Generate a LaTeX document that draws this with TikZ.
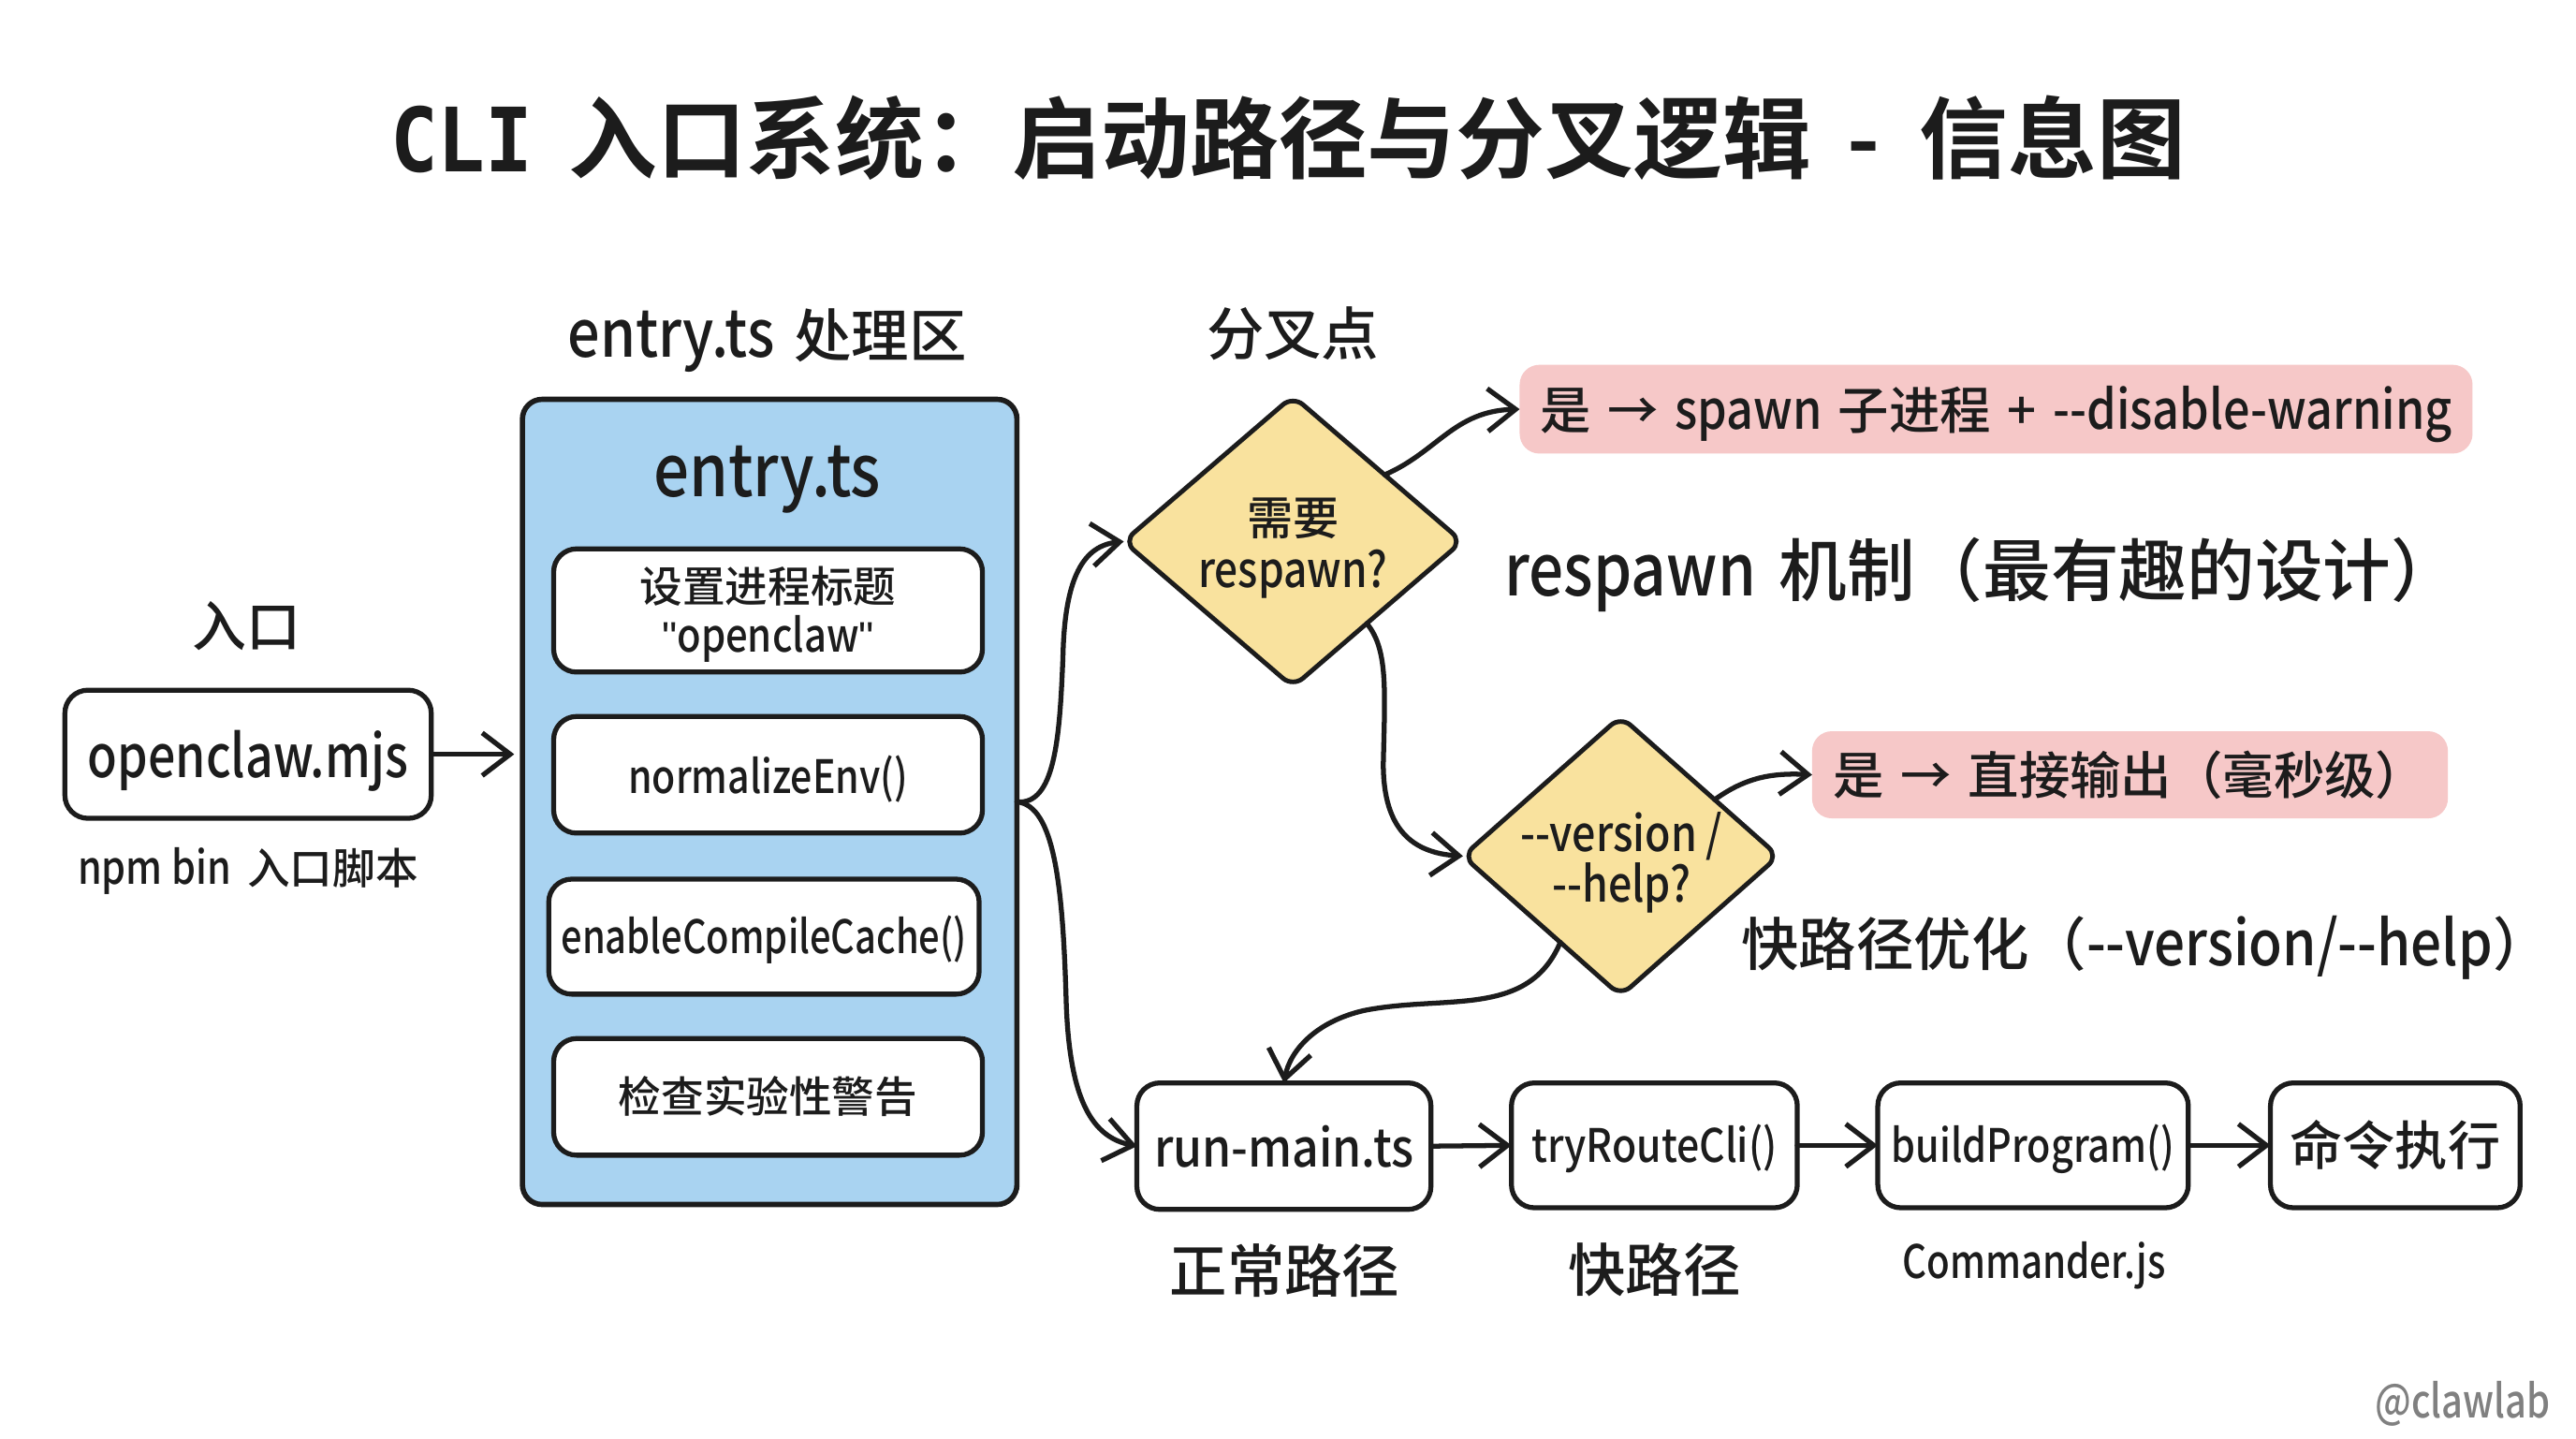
\documentclass[tikz,border=0pt]{standalone}
\usepackage{fontspec}
\setmainfont{Noto Sans CJK SC}[UprightFont=* Medium,BoldFont=* Bold]
\newfontfamily\monof{DejaVu Sans Mono}[FakeStretch=0.89]
\newfontfamily\quotef{Liberation Sans}
\usetikzlibrary{shapes.geometric,arrows.meta}
\definecolor{ink}{HTML}{1C1C1C}
\definecolor{bluefill}{HTML}{A9D3F1}
\definecolor{yelfill}{HTML}{F9E29E}
\definecolor{pinkfill}{HTML}{F6C8C8}
\newcommand{\fsz}[1]{\fontsize{#1pt}{#1pt}\selectfont}
\newcommand{\fszl}[2]{\fontsize{#1pt}{#2pt}\selectfont}
\newcommand{\lt}[3]{{\fontsize{#1pt}{#1pt}\selectfont\addfontfeature{FakeStretch=#2}#3}}
\tikzset{
  x=0.5pt,y=-0.5pt,
  every node/.style={inner sep=0pt,outer sep=0pt,text=ink,align=center},
  boxw/.style={draw=ink,line width=1.5pt,rounded corners=7pt,fill=white},
  outerbox/.style={draw=ink,line width=1.6pt,rounded corners=6pt,fill=bluefill},
  deci/.style={draw=ink,line width=1.4pt,diamond,rounded corners=4pt,fill=yelfill},
  pinkbox/.style={rounded corners=6pt,fill=pinkfill},
  conn/.style={draw=ink,line width=1.5pt,line cap=round,-{Straight Barb[length=8.5pt,width=13pt,line width=1.5pt]}},
  wh/.style 2 args={minimum width=#1*0.5pt,minimum height=#2*0.5pt},
}
\begin{document}
\begin{tikzpicture}
\useasboundingbox[fill=white] (0,0) rectangle (1568,875.2);
% title
\node[font=\fsz{27}] (title) at (784,84) {\textbf{{\monof\bfseries CLI}\hspace{11pt}入口系统：启动路径与分叉逻辑\hspace{11pt}-\hspace{12pt}信息图}};
% entry column
\node[font=\fsz{16.5}] (lblin) at (150,381) {入口};
\node[boxw,wh={223}{78}] (mjs) at (151,459) {};
\node (mjst) at (151,463) {\lt{18}{.82}{openclaw.mjs}};
\node[font=\fsz{13}] (npm) at (151,530) {\lt{14}{.84}{npm bin}\hspace{5pt}入口脚本};
% entry.ts block
\node[font=\fsz{17.5}] (lblent) at (467,207) {\lt{20}{.87}{entry.ts}\hspace{6pt}处理区};
\node[outerbox,wh={301}{490}] (entry) at (468.5,488) {};
\node (enthead) at (467,292) {\lt{22}{.87}{entry.ts}};
\node[boxw,wh={261}{75}] (e1) at (467.5,371.5) {};
\node[font=\fszl{13}{15}] (e1t) at (467.5,374) {设置进程标题\\{\quotef\fontsize{13}{15}\selectfont"}\lt{14}{.85}{openclaw}{\quotef\fontsize{13}{15}\selectfont"}};
\node[boxw,wh={261}{71}] (e2) at (467.5,471.5) {};
\node (e2t) at (467.5,474) {\lt{14}{.835}{normalizeEnv()}};
\node[boxw,wh={262}{70}] (e3) at (465,570) {};
\node (e3t) at (465,572) {\lt{14}{.81}{enableCompileCache()}};
\node[boxw,wh={261}{71},font=\fsz{13}] (e4) at (467.5,667.5) {检查实验性警告};
% decisions
\node[font=\fsz{17.5}] (lblfork) at (787,203) {分叉点};
\node[deci,wh={206}{177}] (d1) at (787,329.5) {};
\node[font=\fszl{14}{16}] (d1t) at (787,333.5) {需要\\\lt{15}{.84}{respawn?}};
\node[deci,wh={192}{170}] (d2) at (986.5,521) {};
\node[font=\fszl{14}{15.5}] (d2t) at (987,525) {\lt{15}{.85}{-{}-version /}\\\lt{15}{.85}{-{}-help?}};
\node[pinkbox,wh={580}{54}] (p1) at (1215,249) {};
\node[font=\fsz{15.5}] (p1t) at (1215,252) {是\hspace{5pt}→\hspace{5pt}\lt{16.5}{.87}{spawn}\hspace{5pt}子进程\hspace{5pt}+\hspace{5pt}\lt{16.5}{.87}{-{}-disable-warning}};
\node[pinkbox,wh={387}{53},font=\fsz{15.5}] (p2) at (1296.5,471.5) {是\hspace{5pt}→\hspace{5pt}直接输出（毫秒级）};
\node[anchor=west,font=\fsz{20.7}] (respawn) at (916,350) {\lt{22}{.85}{respawn}\hspace{7pt}机制（最有趣的设计）};
\node[anchor=west,font=\fsz{17.5}] (fast) at (1060,577) {快路径优化（\lt{19}{.875}{-{}-version/-{}-help}）};
% bottom row
\node[boxw,wh={179}{77}] (run) at (781.5,697.5) {\lt{16}{.89}{run-main.ts}};
\node[boxw,wh={174}{76}] (route) at (1007,697) {};
\node (routet) at (1007,699) {\lt{14}{.87}{tryRouteCli()}};
\node[boxw,wh={189}{76}] (build) at (1237.5,697) {};
\node (buildt) at (1237.5,699) {\lt{14}{.84}{buildProgram()}};
\node[boxw,wh={152}{76},font=\fsz{16}] (cmd) at (1458,697) {命令执行};
\node[font=\fsz{17.5}] (lblnorm) at (782,773) {正常路径};
\node[font=\fsz{17.5}] (lblfastp) at (1007,773) {快路径};
\node (lblcmd) at (1238,770) {\lt{14}{.82}{Commander.js}};
\node[text=black!50] (mark) at (1499,854) {\lt{14}{.81}{@clawlab}};
% connectors
\draw[conn] (mjs.east) -- ([xshift=-2.5pt]entry.west |- mjs.east);
\draw[conn] (entry.east) .. controls (642,490) and (645,450) .. (647,400) .. controls (648,350) and (660,332) .. (d1.west);
\draw[conn] (entry.east) .. controls (642,490) and (647,540) .. (649,610) .. controls (651,670) and (665,692) .. (run.west);
\draw[conn] (d1.36) .. controls (875,275) and (885,250) .. (p1.west);
\draw[conn] (d1.-48) .. controls (845,395) and (843,420) .. (842,465) .. controls (842,505) and (860,519) .. (d2.west);
\draw[conn] (d2.31) .. controls (1060,475) and (1075,470) .. (p2.west);
\draw[conn] (d2.235) .. controls (930,620) and (880,605) .. (830,615) .. controls (800,622) and (785,640) .. (run.north);
\draw[conn] (run.east) -- (route.west);
\draw[conn] (route.east) -- (build.west);
\draw[conn] (build.east) -- (cmd.west);
\end{tikzpicture}
\end{document}
